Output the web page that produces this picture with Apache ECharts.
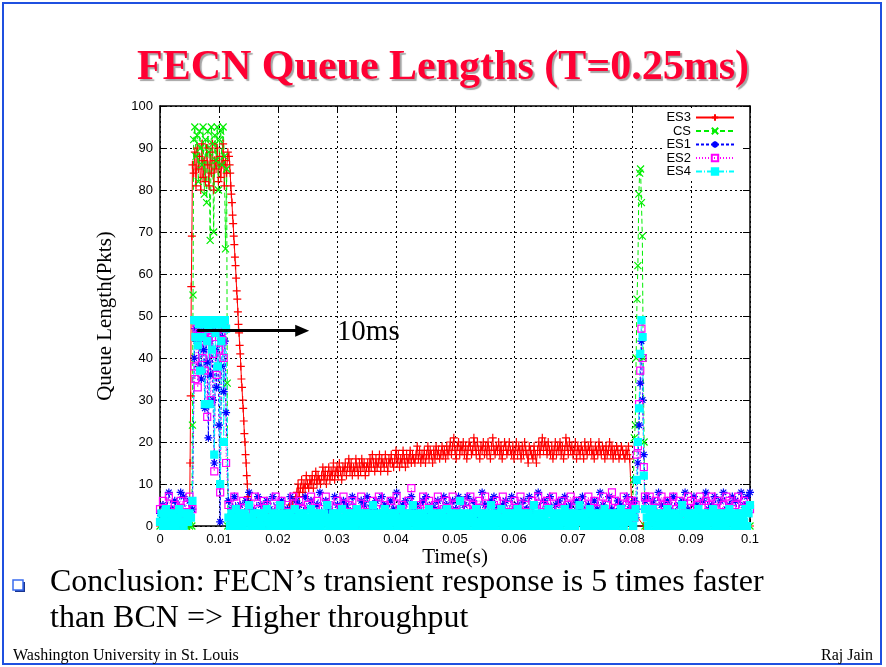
<!DOCTYPE html>
<html><head><meta charset="utf-8">
<script src="https://cdn.jsdelivr.net/npm/echarts@6/dist/echarts.min.js"></script>
<style>html,body{margin:0;padding:0;background:#fff}#c{width:886px;height:667px}</style>
</head><body><div id="c"></div>
<script>
// ================= DATA =================
const seriesNames = ['ES3', 'CS', 'ES1', 'ES2', 'ES4'];
const xTickStep = 0.01, xMin = 0, xMax = 0.1;
const yTickStep = 10, yMin = 0, yMax = 100;

// Each segment: [start time (s), sample spacing (s), queue values (pkts)]
const es3Pre    = [0, 0.0005, [0,0,0,0,0,0,0,0,0,0]];
const es3Up     = [0.0050, 0.0001, [0,15,31,57,69,86]];
const es3Burst  = [0.0057, 0.0002, [84,89,81,90,85,88,80,91,83,87,82,90,86,81,89,84,91,80,87,85,90,82,88,83,86,91,81,87,84,89]];
const es3Down   = [0.0117, 0.0001, [88,86,84,81,79,77,74,72,69,67,64,62,59,56,54,51,48,46,43,41,38,35,33,30,28,25,22,20,17,15,12,10,7]];
const es3Low    = [0.0150, 0.0005, [6,4,2,3,1,2,0,3,2,1,3,2,4,3,5,6,7]];
const es3Rise   = [0.0232, 0.0002, [
  8,10,7,9,11,8,10,9,12,10,9,11,10,12,9,11,13,10,12,11,
  10,12,14,11,13,10,12,14,11,13,12,15,11,13,14,12,15,13,11,14,
  13,15,12,14,16,13,15,12,14,13,16,14,12,15,13,16,14,15,12,14,
  15,13,16,14,17,15,13,16,14,15,17,13,16,15,14,17,15,13,16,15,
  17,15,14,16,18,15,17,14,16,15,18,16,14,17,15,16,18,15,17,16,
  15,17,19,16,18,15,17,16,18,15,17,19,16,18,17,15,18,16,19,17,
  18,16,17,19,17,18,16,19,17,18,20,17,19,21,18,16,19,20,17,19,
  18,20,17,19,16,18,20,19,17,18,21,19,17,20,18,16,19,18,20,17,
  19,17,20,18,16,19,21,18,17,19,18,20,17,19,16,18,20,19,17,18,
  20,18,17,19,16,18,20,17,19,18,16,19,17,20,18,17,15,19,18,17,
  16,19,17,15,18,20,17,19,21,18,20,19,17,20,18,17,19,16,18,20,
  17,19,18,20,17,19,16,18,21,19,17,20,18,19,17,18,20,16,19,18,
  17,19,18,16,20,18,17,19,18,20,17,18,16,19,18,17,20,18,17,19,
  18,16,19,17,18,20,17,19,16,18,17,19,18,16,17,19,18,17,16,18,
  17,19,16]];
const es3Tail   = [0.0800, 0.0020, [4,0,1,0,2,0,1,0,0,1,0]];

const csPre     = [0, 0.0005, [0,0,0,0,0,0,0,0,0,0,0]];
const csUp      = [0.0054, 0.0001, [0,24,55,92]];
const csBurst   = [0.0059, 0.0002, [95,88,93,82,94,90,86,95,79,92,77,94,89,68,95,91,70,93,87,95,80,92,94,86,95,88,66,85]];
const csDown    = [0.0114, 0.0001, [34,0]];
const csIdle    = [0.0120, 0.0020, [0,0,0,0,0,0,0,0,0,0,0,0,0,0,0,0,0,0,0,0,0,0,0,0,0,0,0,0,0,0,0,0,0,0,0]];
const csSpike   = [0.0801, 0.00015, [0,11,21,24,40,54,62,79,84,85,77,69,40,20,0]];
const csTail    = [0.0840, 0.0020, [0,0,0,0,0,0,0,0,0]];

const es1Pre    = [0, 0.0005, [3,5,2,8,4,6,3,8,7,2,6,4]];
const es1Burst  = [0.0058, 0.0002, [40,47,44,46,38,47,35,46,42,28,45,39,21,44,36,47,30,15,42,33,46,24,1,38,45,32,44,27]];
const es1Post   = [0.0116, 0.0005, [
  6,4,7,3,5,2,6,8,4,3,7,5,2,6,4,7,3,5,6,2,
  4,7,3,6,5,2,7,4,6,3,5,8,2,6,4,3,7,5,2,6,
  5,3,7,4,2,6,5,7,3,4,6,2,7,5,3,6,4,8,2,5,
  6,3,7,4,5,2,6,7,3,5,4,6,2,7,5,3,6,4,7,2,
  5,7,3,6,4,2,8,5,3,6,7,4,2,5,6,3,7,4,5,2,
  6,4,7,3,5,8,2,6,4,7,3,5,6,2,7,4,5,3,6,4,
  7,3,5,2,6,4,8,5,3,7,4,2,6,5,3,7,4]];
const es1Spike  = [0.0800, 0.0002, [5,3,6,2,4,15,24,34,44,30,17,6]];
const es1Tail   = [0.0825, 0.0005, [7,4,6,3,8,5,2,6,4,7,3,5,6,8,4,2,7,5,3,6,8,4,5,7,3,6,8,4,5,7,6,3,8,5,7,8]];

const es2Pre    = [0, 0.0005, [4,6,3,7,2,5,4,6,3,5,7,4]];
const es2Burst  = [0.0058, 0.0002, [38,35,47,33,46,44,47,40,45,37,47,26,44,46,30,45,41,13,45,36,47,42,8,46,44,40,47,15]];
const es2Post   = [0.0116, 0.0005, [
  5,2,7,4,0,6,3,5,1,7,4,2,6,5,0,3,7,4,6,2,
  5,3,7,1,6,4,0,5,7,3,6,2,4,7,5,0,3,6,4,7,
  2,5,6,0,4,7,3,5,1,6,4,7,2,5,3,6,0,7,4,5,
  3,6,9,2,5,4,7,0,6,3,5,7,1,4,6,2,7,5,3,6,
  0,4,7,5,2,6,3,7,4,1,5,6,0,7,3,5,2,6,4,7,
  3,5,0,6,4,7,2,5,6,1,7,3,4,6,0,5,7,2,6,4,
  5,3,7,0,6,4,2,7,5,3,8,6,4,0,7,5,6]];
const es2Spike  = [0.0800, 0.0002, [6,4,2,5,17,19,29,37,47,40,14,7]];
const es2Tail   = [0.0825, 0.0005, [5,7,4,6,3,7,5,6,2,7,4,6,5,3,7,6,4,5,7,2,6,5,7,4,6,3,5,7,6,4,5,7,3,6,5,4]];

const es4Pre    = [0, 0.00025, [1,3,0,2,4,1,3,0,2,3,1,0,2,4,3,1,0,3,2,1,3,2,6]];
const es4Burst  = [0.0058, 0.0002, [49,45,49,43,48,37,49,45,48,29,49,44,47,29,48,42,49,17,46,48,38,49,10,44,48,20,49,47]];
const es4Post   = [0.0116, 0.00025, [
  2,0,3,1,2,4,0,3,1,2,0,3,2,1,5,0,2,3,1,0,
  3,1,2,0,3,2,4,1,0,2,3,1,0,2,3,5,1,0,2,3,
  1,0,3,2,1,4,0,2,3,1,0,3,2,1,0,2,4,3,1,0,
  2,3,1,0,2,3,1,5,0,2,1,3,0,2,3,1,0,4,2,1,
  3,0,2,1,3,2,0,4,1,3,2,0,1,3,2,0,3,1,5,2,
  0,3,1,2,0,3,4,1,2,0,3,1,2,3,0,1,2,4,0,3,
  1,2,0,3,1,5,2,0,3,1,2,0,3,2,1,0,4,2,3,1,
  0,2,3,1,0,3,2,1,4,0,2,3,1,0,2,3,1,6,0,2,
  3,1,0,2,3,1,2,0,4,3,1,0,2,3,1,2,0,3,5,1,
  2,0,3,1,2,4,0,1,3,2,0,3,1,2,0,3,4,1,2,0,
  3,2,1,0,3,1,2,5,0,3,1,2,0,3,2,1,0,4,3,1,
  0,2,3,1,2,0,3,1,4,2,0,3,1,2,3,0,1,2,5,3,
  1,0,2,3,1,4,0,2,3,1,0,2,3,1,0,4,2,3,1,0,
  2,3,1,0,3,2,4,1,0,3,2,1,3]];
const es4Spike  = [0.0800, 0.0002, [3,0,2,4,11,20,28,41,49,45,12,4]];
const es4Tail   = [0.0825, 0.00025, [
  2,0,3,1,4,2,0,3,1,2,0,3,2,1,4,0,3,2,1,0,
  3,1,2,0,5,3,1,0,2,3,1,2,0,3,1,4,2,0,3,1,
  2,0,3,1,2,4,0,3,1,2,0,3,1,2,0,3,4,1,2,0,
  3,1,2,0,3,2,1,4,0,3,5]];

// annotation "10ms" arrow (data coordinates)
const arrowFrom = [0.0063, 46.5];
const arrowTo   = [0.0241, 46.5];
const arrowText = '10ms';
const arrowTextAt = [0.0353, 46];

// ================= BUILD =================
function build(segs) {
  const out = [];
  segs.forEach(([t0, dt, vals]) => vals.forEach((v, i) => out.push([+(t0 + i * dt).toFixed(6), v])));
  return out;
}
const seriesData = {
  ES3: build([es3Pre, es3Up, es3Burst, es3Down, es3Low, es3Rise, es3Tail]),
  CS:  build([csPre, csUp, csBurst, csDown, csIdle, csSpike, csTail]),
  ES1: build([es1Pre, es1Burst, es1Post, es1Spike, es1Tail]),
  ES2: build([es2Pre, es2Burst, es2Post, es2Spike, es2Tail]),
  ES4: build([es4Pre, es4Burst, es4Post, es4Spike, es4Tail])
};

const styles = {
  ES3: {color: '#ff0000', dash: 'solid', symbol: 'path://M0,5L10,5M5,0L5,10', size: 8, fill: '#ff0000'},
  CS:  {color: '#00ee00', dash: [5, 3], symbol: 'path://M0,0L10,10M10,0L0,10', size: 7, fill: '#00ee00'},
  ES1: {color: '#0000ff', dash: [3, 2], symbol: 'path://M5,0L5,10M0,5L10,5M1.5,1.5L8.5,8.5M8.5,1.5L1.5,8.5', size: 8, fill: '#0000ff'},
  ES2: {color: '#ff00ff', dash: [1, 2], symbol: 'path://M0,0L10,0L10,10L0,10Z', size: 7, fill: 'rgba(0,0,0,0)'},
  ES4: {color: '#00ffff', dash: [6, 2, 1, 2], symbol: 'rect', size: 7, fill: '#00ffff'}
};

const series = seriesNames.map(name => {
  const s = styles[name];
  const obj = {
    name, type: 'line', data: seriesData[name],
    symbol: s.symbol, symbolSize: s.size, showAllSymbol: true,
    lineStyle: {color: s.color, width: 1, type: s.dash},
    itemStyle: {color: s.fill, borderColor: s.color, borderWidth: 1.2},
    emphasis: {disabled: true},
    animation: false
  };
  if (name === 'ES4') {
    obj.markLine = {
      silent: true, animation: false,
      symbol: ['none', 'triangle'], symbolSize: [12, 14],
      lineStyle: {color: '#000', width: 3, type: 'solid'},
      label: {show: false},
      data: [[{coord: arrowFrom}, {coord: arrowTo}]]
    };
    obj.markPoint = {
      silent: true, animation: false,
      symbol: 'rect', symbolSize: 1, itemStyle: {color: 'rgba(0,0,0,0)'},
      label: {show: true, position: 'inside', formatter: arrowText,
              fontFamily: 'Liberation Serif', fontSize: 29, color: '#000'},
      data: [{coord: arrowTextAt}]
    };
  }
  return obj;
});

const chart = echarts.init(document.getElementById('c'), null, {renderer: 'canvas'});
const tickFont = {fontFamily: 'Liberation Sans', fontSize: 13, color: '#000'};
const gridLine = {show: true, lineStyle: {color: '#000', width: 1, type: [2, 3]}};
chart.setOption({
  backgroundColor: '#fff',
  animation: false,
  title: {
    text: 'FECN Queue Lengths (T=0.25ms)', left: 'center', top: 42,
    textStyle: {fontFamily: 'Liberation Serif', fontWeight: 'bold', fontSize: 42, color: '#ff0033',
      textShadowColor: 'rgba(90,90,90,0.55)', textShadowOffsetX: 2, textShadowOffsetY: 2, textShadowBlur: 1}
  },
  grid: {left: 160, top: 106, right: 136, bottom: 141, containLabel: false},
  legend: {
    data: seriesNames, orient: 'vertical', align: 'right',
    right: 144, top: 108, itemWidth: 38, itemHeight: 8, itemGap: 0.5,
    backgroundColor: '#fff', padding: [3, 7, 3, 2],
    textStyle: {fontFamily: 'Liberation Sans', fontSize: 13, color: '#000', lineHeight: 13},
    selectedMode: false
  },
  xAxis: [{
    type: 'value', min: xMin, max: xMax, interval: xTickStep, position: 'bottom',
    axisLine: {show: true, onZero: false, lineStyle: {color: '#000', width: 1.5}},
    axisTick: {show: true, inside: true, length: 7, lineStyle: {color: '#000'}},
    axisLabel: Object.assign({margin: 7}, tickFont),
    splitLine: gridLine,
    name: 'Time(s)', nameLocation: 'middle', nameGap: 21, nameMoveOverlap: false,
    nameTextStyle: {fontFamily: 'Liberation Serif', fontSize: 21, color: '#000', lineHeight: 21}
  }, {
    type: 'value', min: xMin, max: xMax, interval: xTickStep, position: 'top',
    axisLine: {show: true, onZero: false, lineStyle: {color: '#000', width: 1.5}},
    axisTick: {show: true, inside: true, length: 7, lineStyle: {color: '#000'}},
    axisLabel: {show: false}, splitLine: {show: false}
  }],
  yAxis: [{
    type: 'value', min: yMin, max: yMax, interval: yTickStep, position: 'left',
    axisLine: {show: true, onZero: false, lineStyle: {color: '#000', width: 1.5}},
    axisTick: {show: true, inside: true, length: 7, lineStyle: {color: '#000'}},
    axisLabel: Object.assign({margin: 7}, tickFont),
    splitLine: gridLine,
    name: 'Queue Length(Pkts)', nameLocation: 'middle', nameGap: 44, nameRotate: 90,
    nameTextStyle: {fontFamily: 'Liberation Serif', fontSize: 21, color: '#000'}
  }, {
    type: 'value', min: yMin, max: yMax, interval: yTickStep, position: 'right',
    axisLine: {show: true, onZero: false, lineStyle: {color: '#000', width: 1.5}},
    axisTick: {show: true, inside: true, length: 7, lineStyle: {color: '#000'}},
    axisLabel: {show: false}, splitLine: {show: false}
  }],
  series: series,
  graphic: [
    {type: 'rect', silent: true, z: 100, shape: {x: 3, y: 3, width: 878, height: 661},
     style: {fill: 'none', stroke: '#1f50e0', lineWidth: 2}},
    {type: 'rect', silent: true, z: 100, shape: {x: 15, y: 582, width: 10, height: 10},
     style: {fill: '#1a3590'}},
    {type: 'rect', silent: true, z: 101, shape: {x: 13, y: 580, width: 10, height: 10},
     style: {fill: '#ffffff', stroke: '#3a6cf0', lineWidth: 1.5}},
    {type: 'text', silent: true, z: 100, style: {x: 50, y: 567,
      text: 'Conclusion: FECN\u2019s transient response is 5 times faster',
      font: '32px "Liberation Serif"', fill: '#000', verticalAlign: 'top'}},
    {type: 'text', silent: true, z: 100, style: {x: 50, y: 603,
      text: 'than BCN => Higher throughput',
      font: '32px "Liberation Serif"', fill: '#000', verticalAlign: 'top'}},
    {type: 'text', silent: true, z: 100, style: {x: 13, y: 648,
      text: 'Washington University in St. Louis',
      font: '16px "Liberation Serif"', fill: '#000', verticalAlign: 'top'}},
    {type: 'text', silent: true, z: 100, style: {x: 873, y: 648, text: 'Raj Jain', align: 'right',
      font: '16px "Liberation Serif"', fill: '#000', verticalAlign: 'top'}}
  ]
});
</script></body></html>
